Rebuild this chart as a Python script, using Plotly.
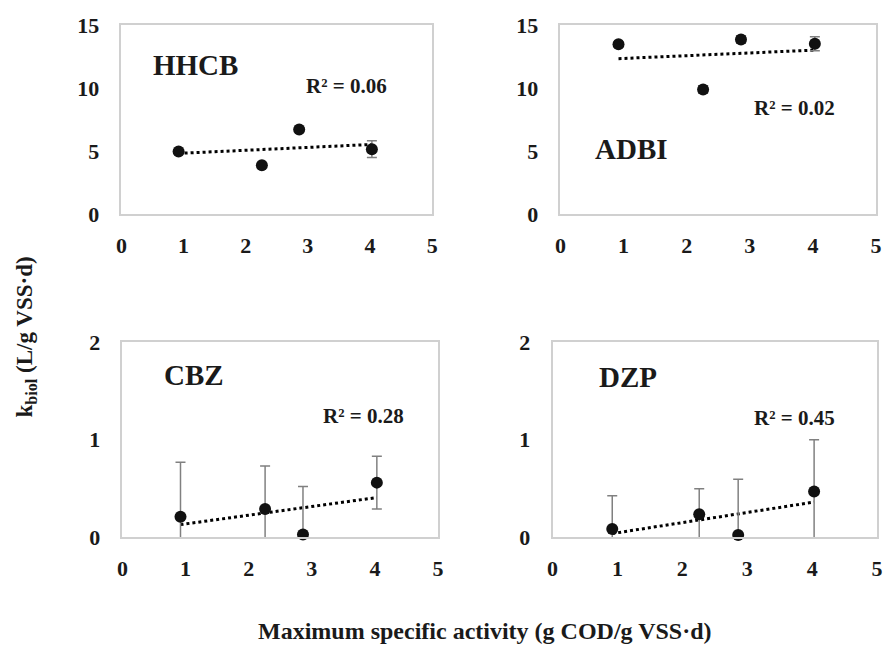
import numpy as np
import plotly.graph_objects as go

# ---- data ----
activity = [0.92, 2.26, 2.86, 4.03]
compounds = ["HHCB", "ADBI", "CBZ", "DZP"]
hhcb_k = [4.97, 3.88, 6.71, 5.15]
hhcb_err = [0.1, 0.1, 0.15, 0.67]
adbi_k = [13.48, 9.88, 13.84, 13.51]
adbi_err = [0.2, 0.3, 0.28, 0.55]
cbz_k = [0.21, 0.29, 0.03, 0.56]
cbz_err = [0.56, 0.44, 0.49, 0.27]
dzp_k = [0.086, 0.237, 0.024, 0.47]
dzp_err = [0.34, 0.26, 0.57, 0.53]
r2_labels = ["R² = 0.06", "R² = 0.02", "R² = 0.28", "R² = 0.45"]
y_ranges = [[0, 15], [0, 15], [0, 2], [0, 2]]
y_dticks = [5, 5, 1, 1]

series = [(hhcb_k, hhcb_err), (adbi_k, adbi_err), (cbz_k, cbz_err), (dzp_k, dzp_err)]

W, H = 889, 660
def px_x(a, b):
    return [a / W, b / W]
def px_y(top, bottom):
    return [1 - bottom / H, 1 - top / H]

domains = [
    (px_x(117, 432), px_y(13.5, 210)),
    (px_x(562, 882), px_y(13.5, 210)),
    (px_x(118, 438), px_y(343, 546)),
    (px_x(554, 883), px_y(343, 546)),
]
# label placements (data coords)
name_pos = [(0.48, 11.86), (0.52, 5.17), (0.625, 1.66), (0.68, 1.64)]
r2_pos = [(2.94, 10.14), (3.03, 8.4), (3.14, 1.24), (3.07, 1.22)]

FONT = "Times New Roman, Liberation Serif, Times, serif"
TXT = "#1a1a1a"
fig = go.Figure()
layout = dict(
    width=W, height=H, margin=dict(l=0, r=0, t=0, b=0),
    paper_bgcolor="white", plot_bgcolor="white", showlegend=False,
    font=dict(family=FONT, size=22, color=TXT),
)
annotations = []
for i, (name, (yv, ev)) in enumerate(zip(compounds, series)):
    n = "" if i == 0 else str(i + 1)
    xa, ya = "x" + n, "y" + n
    dx, dy = domains[i]
    layout["xaxis" + n] = dict(
        domain=dx, anchor=ya, range=[0, 5], dtick=1, tick0=0,
        showline=True, linecolor="#d0d0d0", linewidth=1.5, mirror=True,
        showgrid=False, zeroline=False, ticks="outside", ticklen=11,
        tickcolor="rgba(0,0,0,0)",
        tickfont=dict(family=FONT, size=22, color=TXT, weight="bold"),
        fixedrange=True,
    )
    layout["yaxis" + n] = dict(
        domain=dy, anchor=xa, range=y_ranges[i], dtick=y_dticks[i], tick0=0,
        showline=True, linecolor="#d0d0d0", linewidth=1.5, mirror=True,
        showgrid=False, zeroline=False, ticks="outside", ticklen=16,
        tickcolor="rgba(0,0,0,0)",
        tickfont=dict(family=FONT, size=22, color=TXT, weight="bold"),
        fixedrange=True,
    )
    # trend line from linear regression
    slope, icpt = np.polyfit(activity, yv, 1)
    xl = [min(activity), max(activity)]
    yl = [slope * v + icpt for v in xl]
    fig.add_trace(go.Scatter(x=xl, y=yl, mode="lines", xaxis=xa, yaxis=ya,
                             line=dict(color="black", width=3, dash="dot"),
                             hoverinfo="skip"))
    # error bars (clipped)
    fig.add_trace(go.Scatter(x=activity, y=yv, mode="markers", xaxis=xa, yaxis=ya,
                             marker=dict(size=1, color="rgba(0,0,0,0)"),
                             error_y=dict(type="data", array=ev, visible=True,
                                          color="#808080", thickness=1.5, width=5),
                             cliponaxis=True, hoverinfo="skip"))
    # markers
    fig.add_trace(go.Scatter(x=activity, y=yv, mode="markers", xaxis=xa, yaxis=ya,
                             marker=dict(size=12, color="#111111"),
                             cliponaxis=False))
    annotations.append(dict(x=name_pos[i][0], y=name_pos[i][1], xref=xa, yref=ya,
                            text="<b>" + name + "</b>", showarrow=False,
                            xanchor="left", yanchor="middle",
                            font=dict(family=FONT, size=29, color=TXT)))
    annotations.append(dict(x=r2_pos[i][0], y=r2_pos[i][1], xref=xa, yref=ya,
                            text="<b>" + r2_labels[i] + "</b>", showarrow=False,
                            xanchor="left", yanchor="middle",
                            font=dict(family=FONT, size=21, color=TXT)))

annotations.append(dict(x=20 / W, y=1 - 337.5 / H, xref="paper", yref="paper",
                        text="<b>k<sub>biol</sub> (L/g VSS·d)</b>", textangle=-90, showarrow=False,
                        xanchor="center", yanchor="middle",
                        font=dict(family=FONT, size=23, color=TXT)))
annotations.append(dict(x=486 / W, y=1 - 643 / H, xref="paper", yref="paper",
                        text="<b>Maximum specific activity (g COD/g VSS·d)</b>", showarrow=False,
                        xanchor="center", yanchor="middle",
                        font=dict(family=FONT, size=24, color=TXT)))
layout["annotations"] = annotations
fig.update_layout(**layout)
fig.write_html("out.html")
